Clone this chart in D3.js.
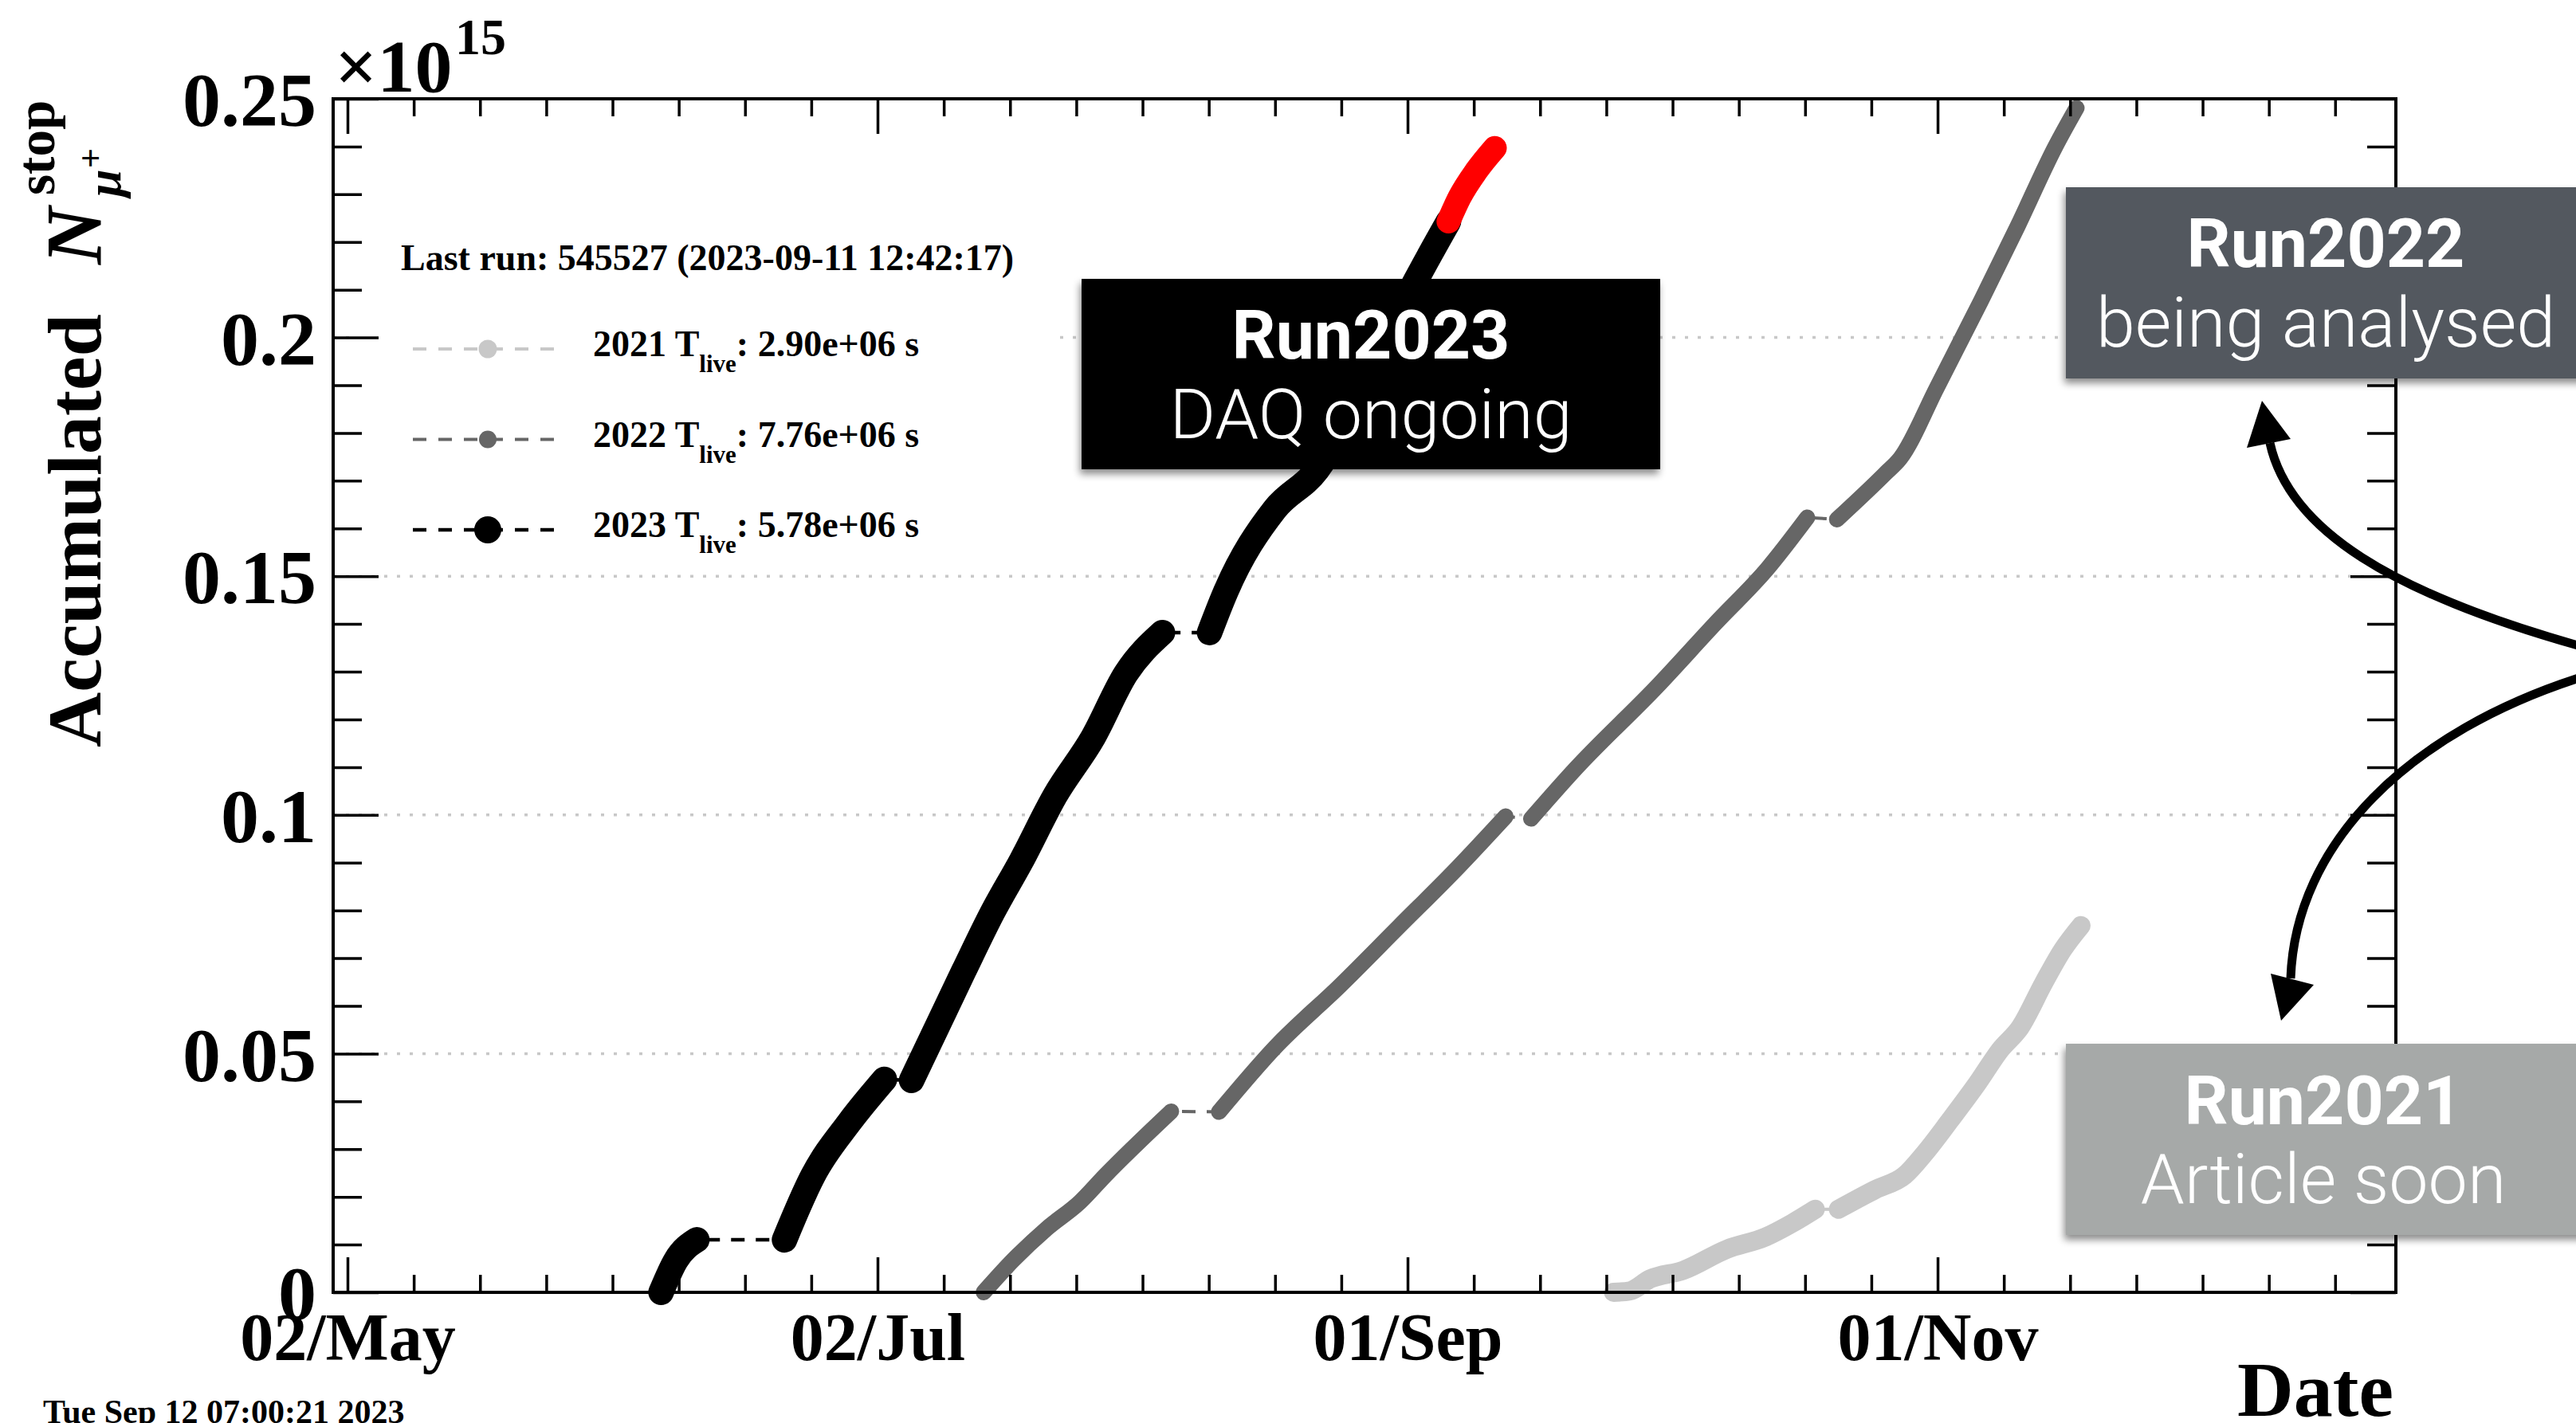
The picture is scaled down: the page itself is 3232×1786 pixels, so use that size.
<!DOCTYPE html>
<html><head><meta charset="utf-8">
<script src="https://cdn.jsdelivr.net/npm/d3@7"></script>
<style>html,body{margin:0;padding:0;background:#fff;} svg{display:block;}</style>
</head><body>
<svg id="chart" width="3232" height="1786"></svg>
<script>
// ---------------- data ----------------
const seriesYears = ["2021", "2022", "2023"];
const liveTimes = ["2.90e+06", "7.76e+06", "5.78e+06"];
const lastRunText = "Last run: 545527 (2023-09-11 12:42:17)";
const timestampText = "Tue Sep 12 07:00:21 2023";
const xTickLabels = ["02/May", "02/Jul", "01/Sep", "01/Nov"];
const xTickDates = ["05-02 00", "07-02 00", "09-01 00", "11-01 00"];
const yTickValues = [0, 0.05, 0.1, 0.15, 0.2, 0.25];
const yTickLabels = ["0", "0.05", "0.1", "0.15", "0.2", "0.25"];
const yExponent = "15";

// accumulated stopped muons (x 1e15), grouped in data-taking periods
const runs2021 = [
  [["09-24 17",0],["09-26 14",0.0003],["09-28 22",0.0028],["10-02 17",0.0046],["10-07 17",0.0090],
   ["10-12 05",0.0116],["10-15 07",0.0145],["10-17 22",0.0174]],
  [["10-20 14",0.0174],["10-24 19",0.0215],["10-28 05",0.0245],["10-30 12",0.0291],["11-02 12",0.0362],
   ["11-05 14",0.0438],["11-08 05",0.0508],["11-10 12",0.0555],["11-13 05",0.0648],["11-15 10",0.0718],
   ["11-17 12",0.0768]]
];
const runs2022 = [
  [["07-14 05",0],["07-17 14",0.0067],["07-21 12",0.0134],["07-25 07",0.0189],["07-28 05",0.0245],
   ["08-04 19",0.0379]],
  [["08-10 07",0.0378],["08-16 19",0.0514],["08-24 05",0.0642],["08-31 00",0.0766],["09-06 19",0.0890],
   ["09-12 07",0.0997]],
  [["09-15 05",0.0992],["09-20 07",0.1096],["09-29 17",0.1269],["10-06 10",0.1401],["10-12 10",0.1516],
   ["10-17 00",0.1623]],
  [["10-20 10",0.1619],["10-25 22",0.1714],["10-27 17",0.1747],["10-31 22",0.1895],["11-06 00",0.2077],
   ["11-10 05",0.2233],["11-14 12",0.2398],["11-17 00",0.2481]]
];
const runs2023 = [
  [["06-07 02",0],["06-08 19",0.0067],["06-11 05",0.0110]],
  [["06-21 07",0.0110],["06-24 14",0.0245],["06-28 17",0.0355],["07-02 19",0.0446]],
  [["07-05 22",0.0444],["07-11 22",0.0673],["07-15 05",0.0795],["07-18 14",0.0905],["07-22 10",0.1040],
   ["07-26 19",0.1162],["07-30 14",0.1296],["08-03 19",0.1382]],
  [["08-09 05",0.1382],["08-11 02",0.1468],["08-16 17",0.1640],["08-21 14",0.1723],["08-27 00",0.1900],
   ["09-02 00",0.2121],["09-05 17",0.2243]]
];
// most recent week of 2023 (highlighted)
const runs2023Recent = [
  [["09-05 17",0.2243],["09-07 00",0.2294],["09-08 22",0.2349],["09-11 01",0.2397]]
];

// ---------------- setup ----------------
const plot = {left: 418, right: 3006, top: 124, bottom: 1622};
const svg = d3.select("#chart");
const serif = "'Liberation Serif','Times New Roman',Times,serif";
const sans = "Roboto,'Helvetica Neue',Helvetica,Arial,sans-serif";

const parseT = d3.utcParse("%Y-%m-%d %H");
const T = s => parseT("2023-" + s);

const x = d3.scaleUtc()
  .domain([new Date(Date.UTC(2023,3,30,8,22)), new Date(Date.UTC(2023,11,23,17,46))])
  .range([plot.left, plot.right]);
const y = d3.scaleLinear().domain([0, 0.25]).range([plot.bottom, plot.top]);

const styles = [
  {color: "#c8c8c8", trail: 24, r: 11.5, dash: 4},
  {color: "#666666", trail: 20, r: 11, dash: 4},
  {color: "#000000", trail: 32, r: 17, dash: 4.5}
];

const defs = svg.append("defs");
const f = defs.append("filter").attr("id","shadow").attr("x","-10%").attr("y","-10%").attr("width","120%").attr("height","130%");
f.append("feDropShadow").attr("dx",-2).attr("dy",6).attr("stdDeviation",5).attr("flood-color","#000").attr("flood-opacity",0.45);

// ---------------- ticks ----------------
const majorDates = xTickDates.map(T);
const stepMs = 61/8 * 86400000;
const minorDates = [];
{
  const t0 = majorDates[0].getTime();
  for (let k = -2; k < 40; k++) {
    const t = t0 + k * stepMs;
    if (t < x.domain()[0].getTime() || t > x.domain()[1].getTime()) continue;
    if (k % 8 === 0) continue;
    minorDates.push(new Date(t));
  }
}
const yMinor = d3.range(0, 26).map(i => i/100).filter(v => Math.round(v*100) % 5 !== 0);

// gridlines
svg.append("g").selectAll("line").data(yTickValues.slice(1, -1)).join("line")
  .attr("x1", plot.left).attr("x2", plot.right)
  .attr("y1", d => y(d)).attr("y2", d => y(d))
  .attr("stroke", "#c8c8c8").attr("stroke-width", 3.5).attr("stroke-dasharray", "4 12");

// legend background
svg.append("rect").attr("x", 440).attr("y", 280).attr("width", 880).attr("height", 420).attr("fill", "#fff");

// ---------------- series ----------------
const lineStraight = d3.line().x(d => x(T(d[0]))).y(d => y(d[1]));
const lineRun = d3.line().x(d => x(T(d[0]))).y(d => y(d[1])).curve(d3.curveMonotoneX);
function drawSeries(runs, st, color) {
  const g = svg.append("g");
  g.append("path").attr("d", lineStraight(runs.flat())).attr("fill", "none")
    .attr("stroke", color).attr("stroke-width", st.dash).attr("stroke-dasharray", "17 14");
  g.selectAll("path.run").data(runs).join("path").attr("class","run")
    .attr("d", d => lineRun(d)).attr("fill", "none").attr("stroke", color)
    .attr("stroke-width", st.trail).attr("stroke-linecap", "round").attr("stroke-linejoin", "round");
}
drawSeries(runs2021, styles[0], styles[0].color);
drawSeries(runs2022, styles[1], styles[1].color);
drawSeries(runs2023, styles[2], styles[2].color);
{
  const g = svg.append("g");
  g.selectAll("path").data(runs2023Recent).join("path")
    .attr("d", d => lineRun(d)).attr("fill","none").attr("stroke","#ff0000")
    .attr("stroke-width", 30).attr("stroke-linecap","round").attr("stroke-linejoin","round");
}

// ---------------- axes ----------------
function styleAxis(g) {
  g.select(".domain").remove();
  g.selectAll(".tick line").attr("stroke", "#000").attr("stroke-width", 3.5);
  g.attr("font-family", serif).attr("font-weight", "bold");
}
svg.append("g").attr("transform", `translate(0,${plot.bottom})`)
  .call(d3.axisBottom(x).tickValues(minorDates).tickSize(-22).tickFormat("")).call(styleAxis);
svg.append("g").attr("transform", `translate(0,${plot.bottom})`)
  .call(d3.axisBottom(x).tickValues(majorDates).tickSize(-44).tickFormat((d,i) => xTickLabels[i]))
  .call(styleAxis)
  .call(g => g.selectAll("text").attr("y", 85).attr("dy", null).attr("font-size", 84).attr("fill","#000"));
svg.append("g").attr("transform", `translate(0,${plot.top})`)
  .call(d3.axisTop(x).tickValues(minorDates).tickSize(-22).tickFormat("")).call(styleAxis);
svg.append("g").attr("transform", `translate(0,${plot.top})`)
  .call(d3.axisTop(x).tickValues(majorDates).tickSize(-44).tickFormat("")).call(styleAxis);

svg.append("g").attr("transform", `translate(${plot.left},0)`)
  .call(d3.axisLeft(y).tickValues(yMinor).tickSize(-36).tickFormat("")).call(styleAxis);
svg.append("g").attr("transform", `translate(${plot.left},0)`)
  .call(d3.axisLeft(y).tickValues(yTickValues).tickSize(-57).tickFormat((d,i) => yTickLabels[i]))
  .call(styleAxis)
  .call(g => g.selectAll("text").attr("x", -21).attr("dy", "0.35em").attr("font-size", 96).attr("fill","#000"));
svg.append("g").attr("transform", `translate(${plot.right},0)`)
  .call(d3.axisRight(y).tickValues(yMinor).tickSize(-36).tickFormat("")).call(styleAxis);
svg.append("g").attr("transform", `translate(${plot.right},0)`)
  .call(d3.axisRight(y).tickValues(yTickValues).tickSize(-57).tickFormat("")).call(styleAxis);

// frame
svg.append("rect").attr("x", plot.left).attr("y", plot.top)
  .attr("width", plot.right - plot.left).attr("height", plot.bottom - plot.top)
  .attr("fill", "none").attr("stroke", "#000").attr("stroke-width", 4);

// exponent
svg.append("text").attr("x", 420).attr("y", 115).attr("font-family", serif).attr("font-weight","bold")
  .attr("font-size", 94).text("×10");
svg.append("text").attr("x", 571).attr("y", 68).attr("font-family", serif).attr("font-weight","bold")
  .attr("font-size", 64).text(yExponent);

// y title
const yt = svg.append("g").attr("transform", "translate(126,938) rotate(-90)")
  .attr("font-family", serif).attr("font-weight", "bold");
yt.append("text").attr("x", 0).attr("y", 0).attr("font-size", 96).text("Accumulated");
yt.append("text").attr("x", 606).attr("y", 0).attr("font-size", 100).attr("font-style","italic").text("N");
yt.append("text").attr("x", 693).attr("y", -58).attr("font-size", 67).text("stop");
yt.append("text").attr("x", 691).attr("y", 25).attr("font-size", 62).attr("font-style","italic").text("μ");
yt.append("text").attr("x", 727).attr("y", 2).attr("font-size", 44).text("+");

// x title & timestamp
svg.append("text").attr("x", 3003).attr("y", 1777).attr("text-anchor","end")
  .attr("font-family", serif).attr("font-weight","bold").attr("font-size", 98).text("Date");
svg.append("text").attr("x", 54).attr("y", 1786)
  .attr("font-family", serif).attr("font-weight","bold").attr("font-size", 42).text(timestampText);

// ---------------- legend ----------------
svg.append("text").attr("x", 503).attr("y", 339).attr("font-family", serif).attr("font-weight","bold")
  .attr("font-size", 46).text(lastRunText);
seriesYears.forEach((yr, i) => {
  const cy = 438 + 113.5 * i;
  const st = styles[i];
  svg.append("line").attr("x1", 518).attr("x2", 696).attr("y1", cy).attr("y2", cy)
    .attr("stroke", st.color).attr("stroke-width", st.dash).attr("stroke-dasharray", "17 15");
  svg.append("circle").attr("cx", 612).attr("cy", cy).attr("r", st.r).attr("fill", st.color);
  const t = svg.append("text").attr("x", 744).attr("y", cy + 9).attr("font-family", serif)
    .attr("font-weight","bold").attr("font-size", 46);
  t.append("tspan").text(yr + " T");
  t.append("tspan").attr("font-size", 31).attr("dy", 20).text("live");
  t.append("tspan").attr("dy", -20).text(": " + liveTimes[i] + " s");
});

// ---------------- annotation boxes ----------------
const boxes = [
  {x: 1357, y: 350, w: 726, h: 239, fill: "#000000", cx: 1720, title: "Run2023", sub: "DAQ ongoing", ty: 450, sy: 550},
  {x: 2592, y: 235, w: 660, h: 240, fill: "#53585f", cx: 2918, title: "Run2022", sub: "being analysed", ty: 335, sy: 435},
  {x: 2592, y: 1310, w: 660, h: 240, fill: "#a6a9a8", cx: 2915, title: "Run2021", sub: "Article soon", ty: 1411, sy: 1510}
];
boxes.forEach(b => {
  svg.append("rect").attr("x", b.x).attr("y", b.y).attr("width", b.w).attr("height", b.h)
    .attr("fill", b.fill).attr("filter", "url(#shadow)");
  svg.append("text").attr("x", b.cx).attr("y", b.ty).attr("text-anchor","middle").attr("fill","#fff")
    .attr("font-family", sans).attr("font-weight", 700).attr("font-size", 86).text(b.title);
  svg.append("text").attr("x", b.cx).attr("y", b.sy).attr("text-anchor","middle").attr("fill","#fff")
    .attr("font-family", sans).attr("font-weight", 300).attr("font-size", 88).text(b.sub);
});

// ---------------- arrows ----------------
const arrows = [
  {d: "M3245,813 C3000,745 2872,665 2848,556", head: [[2838,503],[2819,562],[2874,551]]},
  {d: "M3245,848 C3020,918 2880,1060 2874,1228", head: [[2862,1281],[2849,1222],[2903,1236]]}
];
arrows.forEach(a => {
  svg.append("path").attr("d", a.d).attr("fill","none").attr("stroke","#000").attr("stroke-width", 11);
  svg.append("polygon").attr("points", a.head.map(p => p.join(",")).join(" ")).attr("fill","#000");
});
</script>
</body></html>
